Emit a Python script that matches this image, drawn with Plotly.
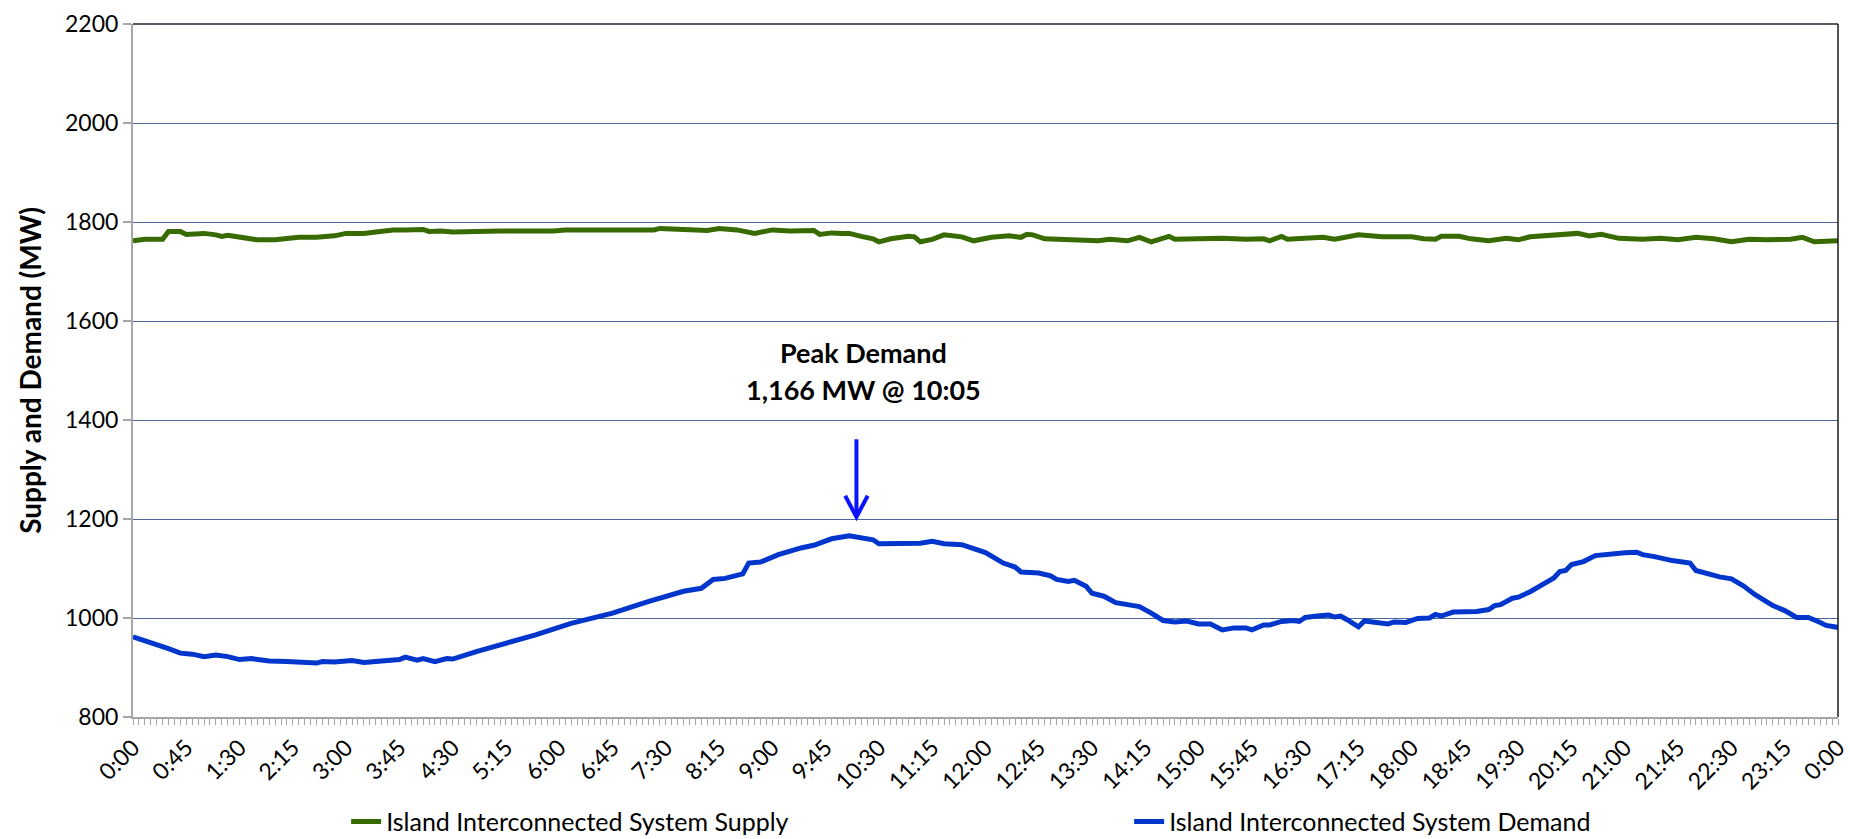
import plotly.graph_objects as go

# ---- data (minutes after midnight, MW) ----
demand_minutes = [0, 15, 30, 40, 50, 60, 70, 80, 90, 100, 115, 130, 145, 155, 160, 170, 185, 195,
                  205, 215, 225, 230, 240, 245, 255, 265, 270, 290, 310, 340, 370, 385, 405, 435,
                  465, 480, 490, 500, 515, 520, 530, 545, 555, 565, 575, 580, 590, 605, 615, 625,
                  630, 645, 655, 665, 675, 685, 700, 710, 720, 735, 745, 750, 765, 775, 780, 790,
                  795, 805, 810, 820, 830, 845, 850, 860, 870, 880, 890, 900, 910, 920, 930, 940,
                  945, 955, 960, 970, 980, 985, 990, 1000, 1010, 1015, 1020, 1025, 1035, 1040,
                  1050, 1060, 1065, 1075, 1085, 1095, 1100, 1105, 1115, 1125, 1130, 1135, 1145,
                  1150, 1155, 1165, 1170, 1180, 1190, 1200, 1205, 1210, 1215, 1225, 1235, 1250,
                  1260, 1270, 1275, 1285, 1300, 1315, 1320, 1340, 1350, 1360, 1370, 1385, 1395,
                  1405, 1415, 1425, 1430, 1440]
demand_mw = [962, 951, 938, 929, 927, 922, 925, 922, 916, 918, 913, 912, 910, 909, 912, 911, 914, 910,
             912, 915, 916, 921, 915, 918, 912, 918, 917, 932, 945, 966, 989, 998, 1010, 1033,
             1054, 1060, 1078, 1080, 1089, 1111, 1113, 1128, 1136, 1142, 1147, 1152, 1160, 1166, 1163, 1158,
             1150, 1150, 1152, 1151, 1155, 1150, 1148, 1139, 1132, 1111, 1103, 1093, 1091, 1085, 1078, 1074,
             1076, 1064, 1050, 1044, 1031, 1025, 1023, 1010, 995, 992, 994, 988, 988, 976, 980, 980,
             976, 986, 986, 993, 995, 993, 1001, 1004, 1006, 1002, 1004, 997, 982, 994,
             990, 988, 992, 991, 999, 1000, 1007, 1004, 1012, 1013, 1015, 1013, 1017,
             1025, 1027, 1040, 1042, 1053, 1067, 1081, 1094, 1096, 1108, 1114, 1126, 1131,
             1132, 1133, 1128, 1124, 1116, 1111, 1096, 1083, 1079, 1065, 1047, 1025, 1015,
             1001, 1001, 991, 985, 981]

supply_minutes = [0, 10, 20, 25, 30, 40, 45, 60, 70, 75, 80, 95, 105, 120, 130, 140, 155, 170, 180,
                  195, 205, 220, 230, 245, 250, 260, 270, 285, 310, 355, 365, 405, 440, 445, 470,
                  485, 495, 510, 525, 540, 555, 570, 575, 580, 590, 600, 605, 615, 625, 630, 640,
                  655, 660, 665, 675, 685, 700, 710, 725, 740, 750, 755, 760, 770, 785, 805, 815,
                  825, 840, 850, 860, 875, 880, 900, 920, 940, 955, 960, 970, 975, 990, 1005, 1015,
                  1035, 1055, 1080, 1090, 1100, 1105, 1120, 1130, 1145, 1160, 1170, 1180, 1200,
                  1220, 1230, 1240, 1255, 1275, 1290, 1305, 1320, 1335, 1350, 1365, 1380, 1400,
                  1410, 1420, 1440]
supply_mw = [1762, 1765, 1765, 1765, 1781, 1781, 1775, 1777, 1774, 1771, 1773, 1769, 1764, 1764, 1766, 1769, 1769, 1772, 1777,
             1777, 1780, 1784, 1784, 1785, 1781, 1782, 1780, 1781, 1782, 1782, 1784, 1784, 1784, 1787, 1786,
             1783, 1787, 1784, 1777, 1784, 1782, 1781, 1783, 1775, 1778, 1777, 1777, 1771, 1766, 1760, 1766,
             1771, 1770, 1760, 1765, 1774, 1770, 1762, 1769, 1772, 1769, 1775, 1774, 1766, 1765, 1765, 1762,
             1765, 1762, 1769, 1760, 1771, 1765, 1766, 1767, 1765, 1766, 1762, 1771, 1765, 1767, 1769, 1765,
             1774, 1770, 1770, 1766, 1765, 1771, 1771, 1766, 1762, 1767, 1764, 1770, 1773,
             1777, 1772, 1775, 1767, 1765, 1767, 1764, 1769, 1766, 1760, 1765, 1764, 1765,
             1769, 1760, 1762]

tick_minutes = list(range(0, 1441, 45))
tick_labels = ["0:00", "0:45", "1:30", "2:15", "3:00", "3:45", "4:30", "5:15", "6:00", "6:45",
               "7:30", "8:15", "9:00", "9:45", "10:30", "11:15", "12:00", "12:45", "13:30",
               "14:15", "15:00", "15:45", "16:30", "17:15", "18:00", "18:45", "19:30", "20:15",
               "21:00", "21:45", "22:30", "23:15", "0:00"]

peak_label = ["Peak Demand", "1,166 MW @ 10:05"]
peak_arrow_x = 611          # minutes (arrow above the peak)
peak_arrow_top = 1361
peak_arrow_tip = 1204

FONT = "Lato, 'Open Sans', sans-serif"

fig = go.Figure()
fig.add_trace(go.Scatter(x=supply_minutes, y=supply_mw, mode="lines",
                         name="Island Interconnected System Supply",
                         line=dict(color="#376b00", width=5)))
fig.add_trace(go.Scatter(x=demand_minutes, y=demand_mw, mode="lines",
                         name="Island Interconnected System Demand",
                         line=dict(color="#0036cc", width=5)))

# Peak annotation text
fig.add_annotation(x=617, y=1537, text="<b>%s</b>" % peak_label[0], showarrow=False,
                   font=dict(family=FONT, size=27, color="black"), xanchor="center", yanchor="middle")
fig.add_annotation(x=617, y=1462, text="<b>%s</b>" % peak_label[1], showarrow=False,
                   font=dict(family=FONT, size=27, color="black"), xanchor="center", yanchor="middle")

# Arrow (shaft + open head)
arrow_col = "#0a14ff"
fig.add_shape(type="line", x0=peak_arrow_x, x1=peak_arrow_x, y0=peak_arrow_top, y1=peak_arrow_tip,
              line=dict(color=arrow_col, width=4), xref="x", yref="y")
fig.add_shape(type="path",
              path="M %f,%f L %f,%f L %f,%f" % (peak_arrow_x - 9.5, peak_arrow_tip + 43,
                                                 peak_arrow_x, peak_arrow_tip,
                                                 peak_arrow_x + 9.5, peak_arrow_tip + 43),
              line=dict(color=arrow_col, width=4), xref="x", yref="y")

# frame: dark top and right border
fig.add_shape(type="line", xref="paper", yref="paper", x0=0, x1=1, y0=1, y1=1,
              line=dict(color="#1c2438", width=1.5))
fig.add_shape(type="line", xref="paper", yref="paper", x0=1, x1=1, y0=0, y1=1,
              line=dict(color="#1a1a1a", width=1.5))

fig.update_layout(
    width=1850, height=839,
    template="none",
    paper_bgcolor="white", plot_bgcolor="white",
    margin=dict(l=133, r=12, t=24, b=122, autoexpand=False),
    font=dict(family=FONT, size=23, color="black"),
    showlegend=True,
    legend=dict(orientation="h", x=0.125, xanchor="left", y=-0.151, yanchor="middle",
                entrywidth=738, entrywidthmode="pixels", font=dict(family=FONT, size=25, color="black"),
                bgcolor="rgba(0,0,0,0)", traceorder="normal"),
    xaxis=dict(range=[0, 1440], tickmode="array", tickvals=tick_minutes, ticktext=tick_labels,
               tickangle=-45, ticks="outside", ticklen=6, tickcolor="#a6a6a6", tickwidth=1,
               showgrid=False, zeroline=False, showline=True, linecolor="#a6a6a6", linewidth=2,
               tickfont=dict(family=FONT, size=23, color="black"), automargin=False,
               minor=dict(dtick=5, tick0=0, ticks="outside", ticklen=6, tickcolor="#a6a6a6",
                          tickwidth=1, showgrid=False)),
    yaxis=dict(range=[800, 2200], tickmode="linear", tick0=800, dtick=200,
               ticks="outside", ticklen=8, tickcolor="#a6a6a6", tickwidth=1.5,
               showgrid=True, gridcolor="#4a699a", gridwidth=1.4, zeroline=False,
               showline=True, linecolor="#a6a6a6", linewidth=2,
               tickfont=dict(family=FONT, size=23, color="black"), automargin=False,
               title=dict(text="<b>Supply and Demand (MW)</b>", standoff=15,
                          font=dict(family=FONT, size=28, color="black"))),
)

fig.write_html("out.html", config={"displayModeBar": False},
               post_script="document.body.style.margin='0';document.body.style.overflow='hidden';")
